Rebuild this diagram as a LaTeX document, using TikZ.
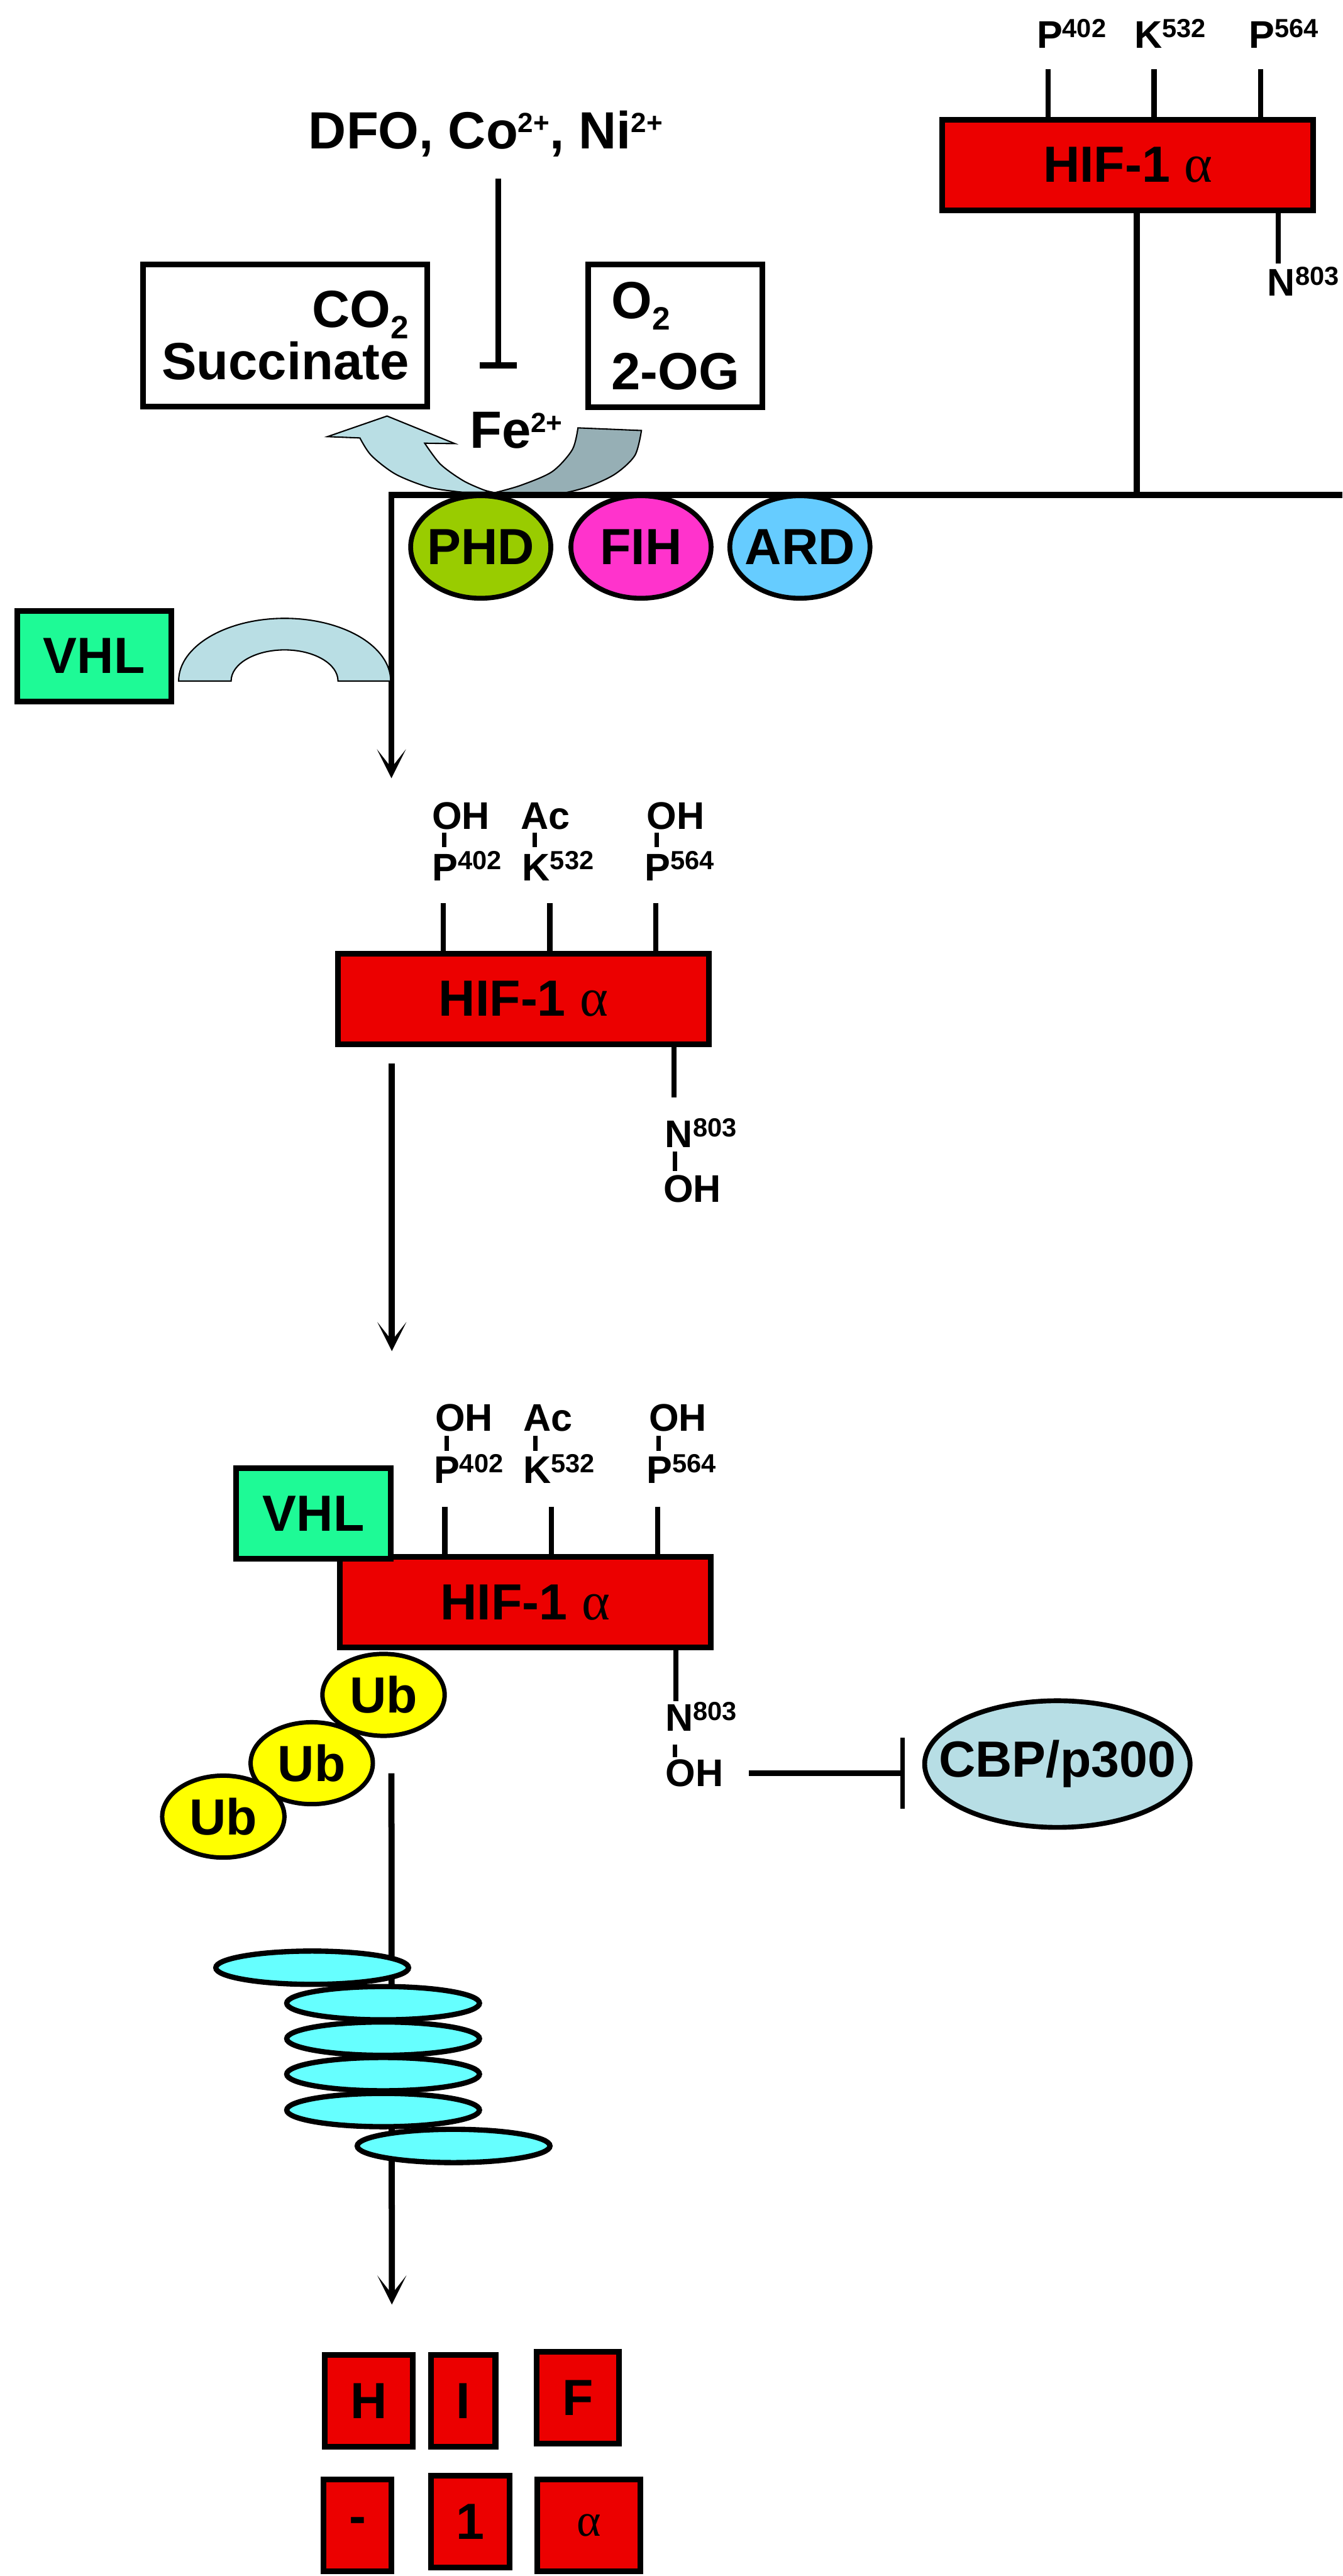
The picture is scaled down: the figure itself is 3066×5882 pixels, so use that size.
\documentclass[tikz,border=0pt]{standalone}
\usepackage{fontspec}
\setmainfont{Liberation Sans}
\newfontfamily\grk{Liberation Serif}
\usepackage{graphicx}
\usetikzlibrary{shapes.geometric, arrows.meta, calc}
\newcommand\FS[1]{\fontsize{#1}{#1}\selectfont}
\newcommand\Sup[1]{\raisebox{0.25cm}{\FS{17}#1}}
\newcommand\Ion[1]{\raisebox{0.36cm}{\FS{18}#1}}
\newcommand\Sub[1]{\raisebox{-0.26cm}{\FS{21}#1}}
\definecolor{hifred}{RGB}{236,0,0}
\definecolor{vhlgreen}{RGB}{30,250,150}
\definecolor{phdgreen}{RGB}{153,204,0}
\definecolor{fihpink}{RGB}{255,51,204}
\definecolor{ardblue}{RGB}{102,204,255}
\definecolor{ubyellow}{RGB}{255,255,0}
\definecolor{cbpblue}{RGB}{183,222,229}
\definecolor{protcyan}{RGB}{102,255,255}
\definecolor{arcblue}{RGB}{185,222,228}
\definecolor{arcgray}{RGB}{150,175,181}
\begin{document}
\begin{tikzpicture}[x=0.01cm, y=-0.01cm,
  every node/.style={inner sep=0pt, outer sep=0pt, font=\bfseries\FS{33}},
  bx/.style={draw, line width=0.13cm, rectangle},
  hifbox/.style={bx, fill=hifred, minimum width=8.47cm, minimum height=2.07cm},
  vhlbox/.style={bx, fill=vhlgreen, minimum width=3.52cm, minimum height=2.07cm},
  sbox/.style={bx, fill=white, minimum height=3.25cm, font=\bfseries\FS{34}},
  enz/.style={ellipse, draw, line width=0.11cm, minimum width=3.2cm, minimum height=2.34cm},
  ub/.style={ellipse, draw, line width=0.1cm, fill=ubyellow, minimum width=2.79cm, minimum height=1.87cm},
  prot/.style={ellipse, draw, line width=0.12cm, fill=protcyan, minimum width=4.4cm, minimum height=0.76cm},
  reslbl/.style={anchor=base west, font=\bfseries\FS{25}},
  conn/.style={line width=0.14cm},
  tickln/.style={line width=0.12cm},
  bond/.style={line width=0.1cm},
  flowarrow/.style={conn, -{Stealth[length=0.66cm, width=0.66cm, inset=0.42cm]}},
  letterbox/.style={bx, fill=hifred, minimum height=2.09cm},
  arcshape/.style={draw=black, line width=0.03cm}
]
\fill[white] (0,0) rectangle (3066,5882);
\useasboundingbox (0,0) rectangle (3066,5882);

% ---------- top: DFO inhibition, substrate boxes, Fe ----------
\node[anchor=base west, font=\bfseries\FS{34}] (dfo) at (705,339) {DFO, Co\Ion{2+}, Ni\Ion{2+}};
\coordinate (feT) at (1138,841);
\draw[conn, -{Bar[width=0.84cm]}, shorten <=0.5cm] (dfo.south -| feT) -- (feT);

\node[sbox, minimum width=6.48cm, align=right] (co2) at (651.5,766) {CO\Sub{2}\\Succinate};
\node[sbox, minimum width=3.98cm, align=left] (o2) at (1542.5,767) {O\Sub{2}\\[0.42cm]2-OG};

\node[anchor=base west, font=\bfseries\FS{34}] (fe) at (1073,1023) {Fe\Ion{2+}};

% gray (incoming) arc
\filldraw[arcshape, fill=arcgray] (1320,977) -- (1465,983)
  -- plot[smooth] coordinates {(1465,983) (1450,1040) (1404,1083) (1338,1113) (1261,1130) (1170,1132)}
  -- plot[smooth] coordinates {(1134,1124) (1190,1108) (1261,1077) (1307,1027) (1320,977)} -- cycle;
% light blue (outgoing) arrow
\filldraw[arcshape, fill=arcblue] (748,997) -- (884,950) -- (1039,1013) -- (970,1012)
  -- plot[smooth] coordinates {(970,1012) (1006,1060) (1057,1097) (1103,1118) (1126,1124)}
  -- plot[smooth] coordinates {(1057,1124) (981,1113) (904,1083) (848,1040) (822,1000)} -- cycle;

% ---------- top HIF-1 alpha ----------
\node[hifbox] (hifA) at (2576,376.5) {HIF-1 {\grk\mdseries\FS{35}α}};
\node[reslbl] (pA1) at (2368,110) {P\Sup{402}};
\node[reslbl] (pA2) at (2591,110) {K\Sup{532}};
\node[reslbl] (pA3) at (2853,110) {P\Sup{564}};
\coordinate (tA1) at (2394,158);
\coordinate (tA2) at (2636,158);
\coordinate (tA3) at (2879,158);
\draw[tickln] (tA1) -- (tA1 |- hifA.north);
\draw[tickln] (tA2) -- (tA2 |- hifA.north);
\draw[tickln] (tA3) -- (tA3 |- hifA.north);
\coordinate (tA4) at (2919,602);
\draw[tickln] (hifA.south -| tA4) -- (tA4);
\node[reslbl] (nA) at (2895,676) {N\Sup{803}};

% enzymes
\node[enz, fill=phdgreen, label=center:PHD] (phd) at (1098,1249) {};
\node[enz, fill=fihpink, label=center:FIH] (fih) at (1464,1249) {};
\node[enz, fill=ardblue, label=center:ARD] (ard) at (1827,1249) {};

% main line
\coordinate (jA) at (2596,1130);
\coordinate (hR) at (3066,1130);
\coordinate (hL) at (894,1130);
\coordinate (tipA) at (894,1777);
\draw[conn] (hifA.south -| jA) -- (jA);
\draw[flowarrow, line join=miter] (hR) -- (hL) -- (tipA);

% VHL with binding arc
\node[vhlbox] (vhlA) at (215,1498) {VHL};
\filldraw[arcshape, fill=arcblue] (408,1555) arc[start angle=180, end angle=0, x radius=2.42cm, y radius=1.43cm]
  -- (772,1555) arc[start angle=0, end angle=180, x radius=1.22cm, y radius=0.71cm] -- cycle;

% ---------- second HIF-1 alpha (hydroxylated) ----------
\node[hifbox] (hifB) at (1195.5,2281) {HIF-1 {\grk\mdseries\FS{35}α}};
\node[reslbl] (ohB1) at (987,1893) {OH};
\node[reslbl] (acB) at (1190,1893) {Ac};
\node[reslbl] (ohB2) at (1477,1893) {OH};
\node[reslbl] (pB1) at (987,2011) {P\Sup{402}};
\node[reslbl] (kB) at (1193,2011) {K\Sup{532}};
\node[reslbl] (pB2) at (1473,2011) {P\Sup{564}};
\coordinate (bB1) at (1014,1918);
\coordinate (bB2) at (1221,1918);
\coordinate (bB3) at (1500,1918);
\draw[bond, shorten <=0.07cm, shorten >=0.1cm] (ohB1.south -| bB1) -- (pB1.north -| bB1);
\draw[bond, shorten <=0.07cm, shorten >=0.1cm] (acB.south -| bB2) -- (kB.north -| bB2);
\draw[bond, shorten <=0.07cm, shorten >=0.1cm] (ohB2.south -| bB3) -- (pB2.north -| bB3);
\coordinate (tB1) at (1012,2062);
\coordinate (tB2) at (1256,2062);
\coordinate (tB3) at (1498,2062);
\draw[tickln] (tB1) -- (tB1 |- hifB.north);
\draw[tickln] (tB2) -- (tB2 |- hifB.north);
\draw[tickln] (tB3) -- (tB3 |- hifB.north);
\coordinate (tB4) at (1539,2506);
\draw[tickln] (hifB.south -| tB4) -- (tB4);
\node[reslbl] (nB) at (1519,2620) {N\Sup{803}};
\node[reslbl] (ohB3) at (1515,2745) {OH};
\coordinate (bB4) at (1542,2646);
\draw[bond, shorten <=0.1cm, shorten >=0.1cm] (nB.south -| bB4) -- (ohB3.north -| bB4);
\coordinate (tipB) at (895,3085);
\draw[flowarrow, shorten <=0.44cm] (hifB.south -| tipB) -- (tipB);

% ---------- third HIF-1 alpha (VHL bound, ubiquitinated) ----------
\node[hifbox] (hifC) at (1199.5,3658.5) {HIF-1 {\grk\mdseries\FS{35}α}};
\node[vhlbox] (vhlC) at (716,3455.5) {VHL};
\node[reslbl] (ohC1) at (994,3268) {OH};
\node[reslbl] (acC) at (1195,3268) {Ac};
\node[reslbl] (ohC2) at (1482,3268) {OH};
\node[reslbl] (pC1) at (991,3387) {P\Sup{402}};
\node[reslbl] (kC) at (1195,3387) {K\Sup{532}};
\node[reslbl] (pC2) at (1477,3387) {P\Sup{564}};
\coordinate (bC1) at (1020,3297);
\coordinate (bC2) at (1223,3297);
\coordinate (bC3) at (1504,3297);
\draw[bond, shorten <=0.1cm, shorten >=0.08cm] (ohC1.south -| bC1) -- (pC1.north -| bC1);
\draw[bond, shorten <=0.1cm, shorten >=0.08cm] (acC.south -| bC2) -- (kC.north -| bC2);
\draw[bond, shorten <=0.1cm, shorten >=0.08cm] (ohC2.south -| bC3) -- (pC2.north -| bC3);
\coordinate (tC1) at (1016,3440);
\coordinate (tC2) at (1259,3440);
\coordinate (tC3) at (1502,3440);
\draw[tickln] (tC1) -- (tC1 |- hifC.north);
\draw[tickln] (tC2) -- (tC2 |- hifC.north);
\draw[tickln] (tC3) -- (tC3 |- hifC.north);
\coordinate (tC4) at (1544,3884);
\draw[tickln] (hifC.south -| tC4) -- (tC4);
\node[reslbl] (nC) at (1520,3953) {N\Sup{803}};
\node[reslbl] (ohC3) at (1520,4079) {OH};
\coordinate (bC4) at (1542,3997);
\draw[bond, shorten <=0.3cm, shorten >=0.06cm] (nC.south -| bC4) -- (ohC3.north -| bC4);

\node[ub, label=center:Ub] (ub1) at (876,3870) {};
\node[ub, label=center:Ub] (ub2) at (712,4026) {};
\node[ub, label=center:Ub] (ub3) at (510,4148) {};

\node[ellipse, draw, line width=0.11cm, fill=cbpblue, minimum width=6.06cm, minimum height=2.89cm,
  label={center:{CBP/p300}}] (cbp) at (2415,4028) {};
\draw[line width=0.12cm, -{Bar[width=1.61cm, line width=0.1cm]}, shorten <=0.59cm, shorten >=0.45cm]
  (ohC3.east) -- (ohC3.east -| cbp.west);

% ---------- proteasome ----------
\coordinate (sC) at (894,4049);
\coordinate (tipC) at (895,5262);
\draw[flowarrow] (sC) -- (tipC);
\node[prot] (pr1) at (713,4493) {};
\node[prot] (pr2) at (875,4574) {};
\node[prot] (pr3) at (875,4655) {};
\node[prot] (pr4) at (875,4736) {};
\node[prot] (pr5) at (875,4818) {};
\node[prot] (pr6) at (1036,4900) {};

% ---------- degraded fragments ----------
\node[letterbox, minimum width=2.01cm] (fH) at (842,5482) {H};
\node[letterbox, minimum width=1.47cm] (fI) at (1058,5482) {I};
\node[letterbox, minimum width=1.88cm] (fF) at (1319.5,5474.5) {F};
\node[letterbox, minimum width=1.54cm] (fD) at (816.5,5766) {-};
\node[letterbox, minimum width=1.79cm] (f1) at (1074,5758) {1};
\node[letterbox, minimum width=2.35cm] (fA) at (1345,5766) {\grk\mdseries\FS{30}α};
\end{tikzpicture}
\end{document}
